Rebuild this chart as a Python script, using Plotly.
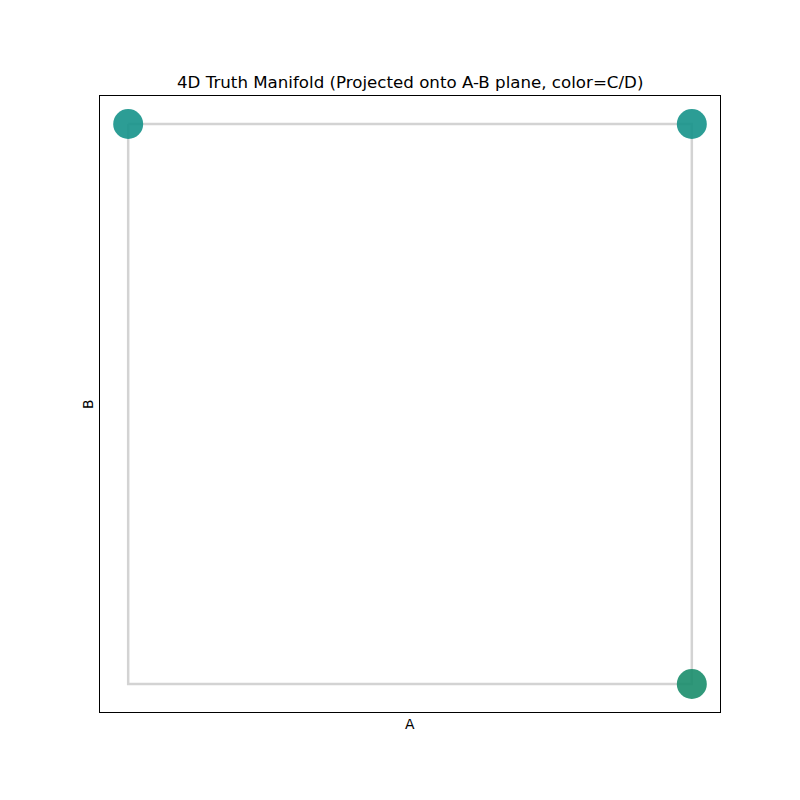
import plotly.graph_objects as go

# Data
path_a = [0, 1, 1, 0, 0]
path_b = [1, 1, 0, 0, 1]
point_a = [0, 1, 1]
point_b = [1, 1, 0]
point_colors = ["#15928a", "#15928a", "#1a8d6c"]

title_text = "4D Truth Manifold (Projected onto A-B plane, color=C/D)"
x_label = "A"
y_label = "B"

fig = go.Figure()
fig.add_trace(go.Scatter(
    x=path_a, y=path_b, mode="lines",
    line=dict(color="#d3d3d3", width=2.5),
    hoverinfo="skip", showlegend=False,
))
fig.add_trace(go.Scatter(
    x=point_a, y=point_b, mode="markers",
    marker=dict(size=30, color=point_colors, opacity=0.9, line=dict(width=0)),
    showlegend=False,
))

L, R, T, B = 100, 80, 96, 88
H = 800 - T - B
W = 800 - L - R

fig.update_layout(
    width=800, height=800,
    margin=dict(l=L, r=R, t=T, b=B),
    paper_bgcolor="white", plot_bgcolor="white",
    font=dict(family="DejaVu Sans", color="black"),
    showlegend=False,
)
axis_common = dict(
    showgrid=False, zeroline=False, showticklabels=False, ticks="",
    showline=True, mirror=True, linecolor="black", linewidth=1,
)
fig.update_xaxes(range=[-0.05, 1.05], **axis_common)
fig.update_yaxes(range=[-0.05, 1.05], **axis_common)

fig.add_annotation(text=title_text, xref="paper", yref="paper",
                   x=0.5, y=1 + (T - 82) / H, xanchor="center", yanchor="middle",
                   showarrow=False, font=dict(size=16.67, family="DejaVu Sans"))
fig.add_annotation(text=x_label, xref="paper", yref="paper",
                   x=0.5, y=-(724 - (T + H)) / H, xanchor="center", yanchor="middle",
                   showarrow=False, font=dict(size=13.9, family="DejaVu Sans"))
fig.add_annotation(text=y_label, xref="paper", yref="paper",
                   x=-(L - 88) / W, y=0.5, xanchor="center", yanchor="middle",
                   textangle=-90,
                   showarrow=False, font=dict(size=13.9, family="DejaVu Sans"))

fig.write_html("out.html")
